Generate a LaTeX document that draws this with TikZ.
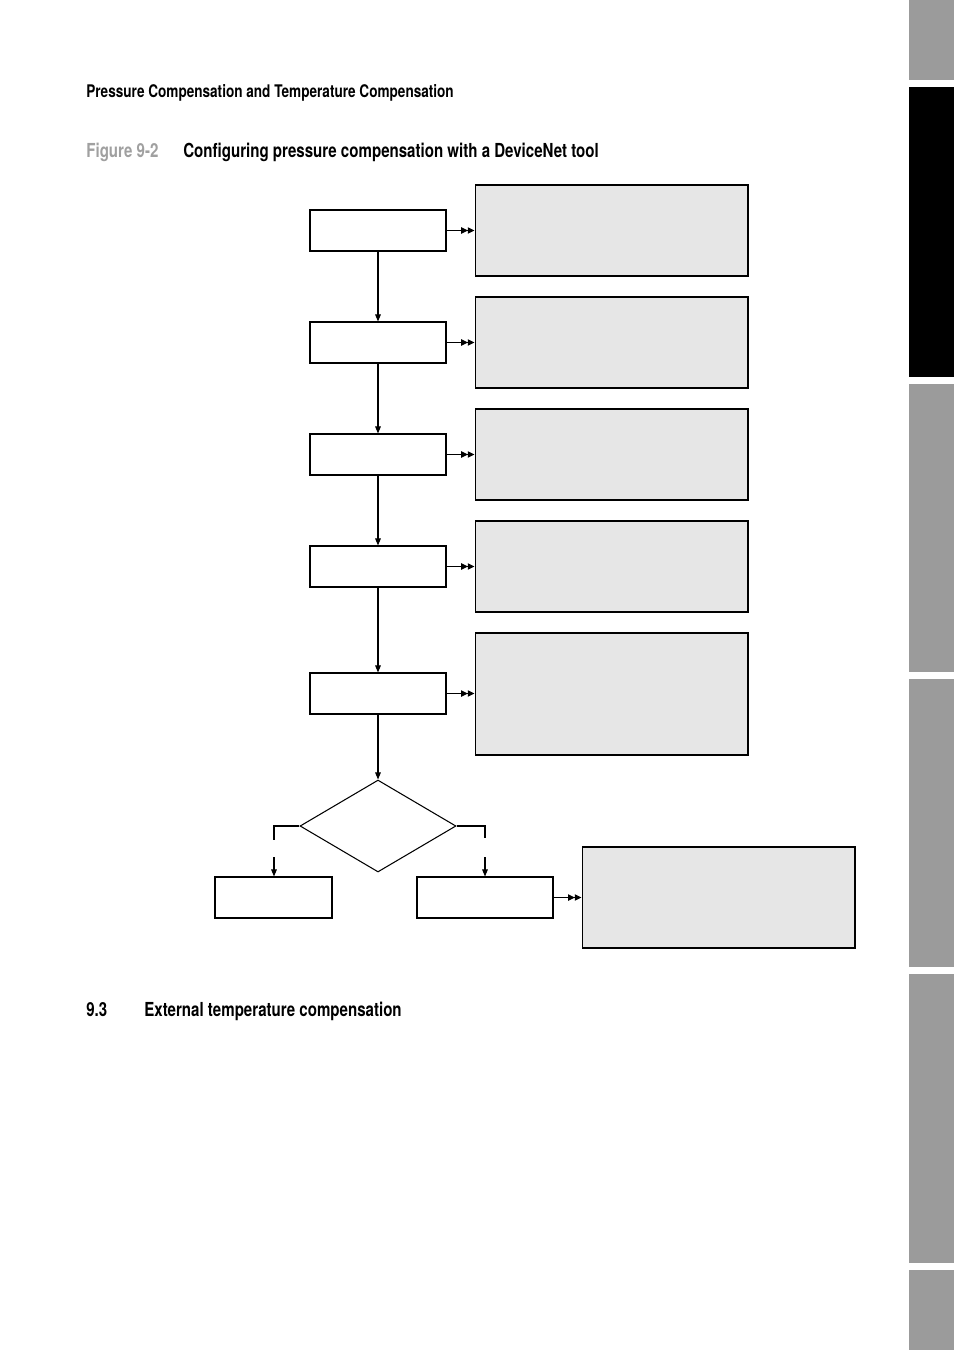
\documentclass[tikz,border=0pt]{standalone}
\usepackage{fontspec}
\setmainfont{TeX Gyre Heros}[FakeStretch=0.78]
\usetikzlibrary{positioning, arrows.meta, shapes.geometric}
\definecolor{TabGray}{RGB}{155,155,155}
\definecolor{NoteGray}{RGB}{230,230,230}
\definecolor{FigGray}{RGB}{160,160,160}
\tikzset{
    stepbox/.style={
        draw, line width=0.6pt, minimum width=2.72cm, minimum height=0.82cm, inner sep=0pt
    },
    notebox/.style={
        draw, line width=0.6pt, fill=NoteGray, minimum width=5.46cm, minimum height=1.82cm, inner sep=0pt
    },
    decision/.style={
        diamond, draw, line width=0.6pt, minimum width=3.12cm, minimum height=1.84cm, inner sep=0pt
    },
    ptr/.style={
        -{Triangle[length=4pt,width=3.2pt]}, line width=0.6pt
    },
    dptr/.style={
        -{Triangle[length=3.8pt,width=3.6pt]Triangle[length=3.8pt,width=3.6pt]}, line width=0.6pt
    },
    headtext/.style={
        anchor=base west, inner sep=0pt, font=\bfseries\fontsize{11pt}{13pt}\selectfont
    }
}

\begin{document}
\begin{tikzpicture}[x=0.02cm, y=-0.02cm]
    \useasboundingbox (0,0) rectangle (954,1350);

    % --- page tabs ---
    \fill[TabGray] (909,0) rectangle (954,80);
    \fill[black] (909,87) rectangle (954,377);
    \fill[TabGray] (909,384) rectangle (954,672);
    \fill[TabGray] (909,679) rectangle (954,967);
    \fill[TabGray] (909,974) rectangle (954,1263);
    \fill[TabGray] (909,1270) rectangle (954,1350);

    % --- headings ---
    \node[headtext, font=\bfseries\fontsize{9.9pt}{11pt}\selectfont] (runhead) at (86,97)
        {Pressure Compensation and Temperature Compensation};
    \node[headtext, text=FigGray] (fignum) at (86,157) {Figure 9-2};
    \node[headtext] (figtitle) at (183,157)
        {Configuring pressure compensation with a DeviceNet tool};
    \node[headtext] (secnum) at (86,1016) {9.3};
    \node[headtext] (sectitle) at (144,1016)
        {External temperature compensation};

    % --- steps and notes ---
    \foreach \i/\y in {1/230.5, 2/342.5, 3/454.5, 4/566.5} {
        \node[stepbox] (step\i) at (378,\y) {};
        \node[notebox] (note\i) at (611.5,\y) {};
        \draw[dptr] (step\i.east) -- (note\i.west);
    }
    \node[stepbox] (step5) at (378,693.5) {};
    \node[notebox, minimum height=2.44cm] (note5) at (611.5,694) {};
    \draw[dptr] (step5.east) -- (step5.east -| note5.west);

    \foreach \i/\j in {1/2, 2/3, 3/4, 4/5} {
        \draw[ptr] (step\i.south) -- (step\j.north);
    }

    % --- decision ---
    \node[decision] (choice) at (378,826) {};
    \draw[ptr] (step5.south) -- (choice.north);

    \node[stepbox, minimum width=2.34cm] (leftend) at (273.5,897.5) {};
    \node[stepbox] (rightstep) at (485,897.5) {};
    \node[notebox, minimum height=2.02cm] (note6) at (718.5,897.5) {};

    \coordinate (lgapA) at (274,840);
    \coordinate (lgapB) at (274,857);
    \coordinate (rgapA) at (485,838);
    \coordinate (rgapB) at (485,857);

    \draw[line width=0.6pt] (choice.west) -| (lgapA);
    \draw[ptr] (lgapB) -- (lgapB |- leftend.north);
    \draw[line width=0.6pt] (choice.east) -| (rgapA);
    \draw[ptr] (rgapB) -- (rightstep.north);
    \draw[dptr] (rightstep.east) -- (note6.west);
\end{tikzpicture}
\end{document}
